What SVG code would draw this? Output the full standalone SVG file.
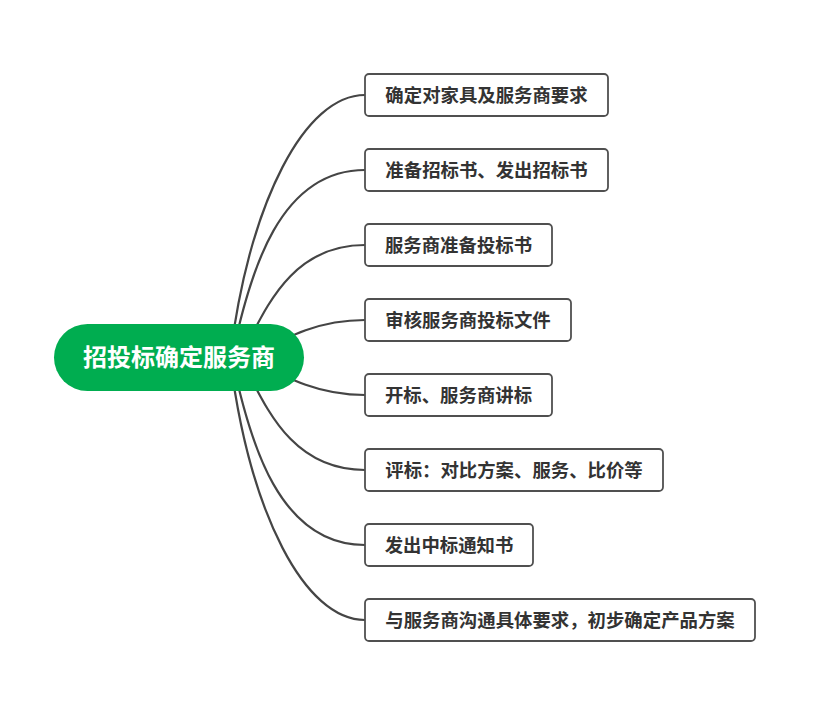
<svg xmlns="http://www.w3.org/2000/svg" width="817" height="705" viewBox="0 0 817 705">
<style>
.bg{fill:#ffffff}
.conn{fill:none;stroke:#454545;stroke-width:2.2;stroke-linecap:round}
.box{fill:#ffffff;stroke:#505050;stroke-width:1.8}
.lbl{font-family:"Noto Sans CJK SC","Noto Sans",sans-serif;font-size:18.4px;font-weight:bold;fill:#333333;text-anchor:middle}
.root{fill:#00ad50}
.rootlbl{font-family:"Noto Sans CJK SC","Noto Sans",sans-serif;font-size:24px;font-weight:bold;fill:#ffffff;text-anchor:middle}
</style>
<rect class="bg" x="0" y="0" width="817" height="705"/>
<g id="connectors">
<path class="conn" d="M230,357 C250,200 305,95 365,95"/>
<path class="conn" d="M232,357 C250,270 280,170 365,170"/>
<path class="conn" d="M240,357 C262,320 285,245 365,245"/>
<path class="conn" d="M250,357 C290,335 320,320 365,320"/>
<path class="conn" d="M250,358 C290,380 320,395 365,395"/>
<path class="conn" d="M240,358 C262,395 285,470 365,470"/>
<path class="conn" d="M232,358 C250,445 280,545 365,545"/>
<path class="conn" d="M230,358 C250,515 305,620 365,620"/>
</g>
<g id="root">
<rect class="root" x="54" y="324" width="250" height="67" rx="33.5"/>
<text class="rootlbl" x="179" y="366">招投标确定服务商</text>
</g>
<g id="n1">
<rect class="box" x="365" y="74" width="243" height="42" rx="4"/>
<text class="lbl" x="486.5" y="101.5">确定对家具及服务商要求</text>
</g>
<g id="n2">
<rect class="box" x="365" y="149" width="243" height="42" rx="4"/>
<text class="lbl" x="486.5" y="176.5">准备招标书、发出招标书</text>
</g>
<g id="n3">
<rect class="box" x="365" y="224" width="187" height="42" rx="4"/>
<text class="lbl" x="458.5" y="251.5">服务商准备投标书</text>
</g>
<g id="n4">
<rect class="box" x="365" y="299" width="206" height="42" rx="4"/>
<text class="lbl" x="468" y="326.5">审核服务商投标文件</text>
</g>
<g id="n5">
<rect class="box" x="365" y="374" width="187" height="42" rx="4"/>
<text class="lbl" x="458.5" y="401.5">开标、服务商讲标</text>
</g>
<g id="n6">
<rect class="box" x="365" y="449" width="298" height="42" rx="4"/>
<text class="lbl" x="514" y="476.5">评标：对比方案、服务、比价等</text>
</g>
<g id="n7">
<rect class="box" x="365" y="524" width="168" height="42" rx="4"/>
<text class="lbl" x="449" y="551.5">发出中标通知书</text>
</g>
<g id="n8">
<rect class="box" x="365" y="599" width="390" height="42" rx="4"/>
<text class="lbl" x="560" y="626.5">与服务商沟通具体要求，初步确定产品方案</text>
</g>
</svg>
